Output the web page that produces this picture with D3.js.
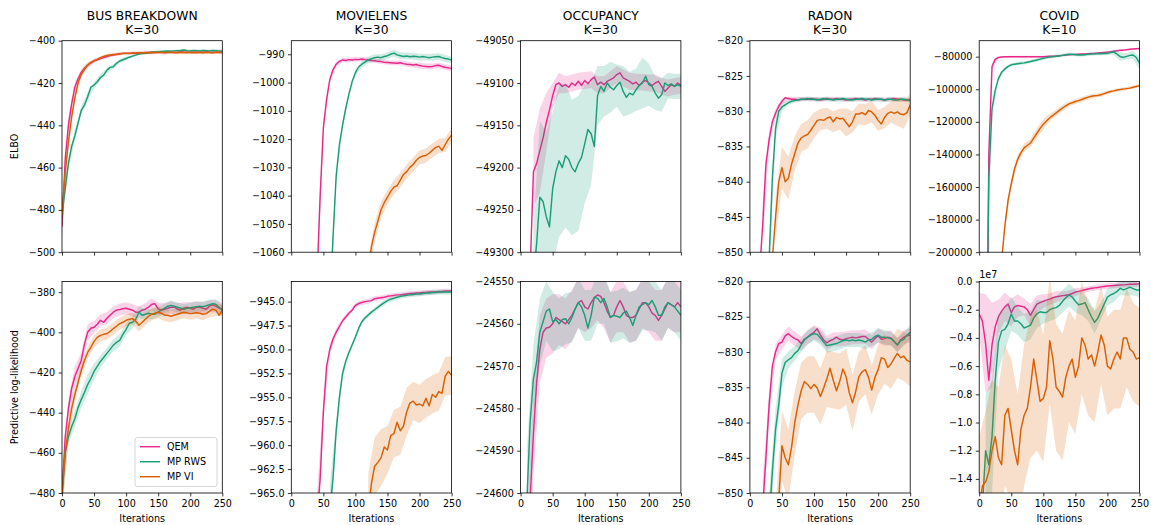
<!DOCTYPE html>
<html>
<head>
<meta charset="utf-8">
<script src="https://cdn.jsdelivr.net/npm/d3@7"></script>
<style>
  body { margin: 0; background: #fff; }
  text { font-family: "DejaVu Sans", sans-serif; }
</style>
</head>
<body>
<div id="chart"></div>
<script>
// mean curves are read every 5 iterations, band half-widths every 10 iterations
const iterations = d3.range(0, 251, 5);
const bandIterations = d3.range(0, 251, 10);
function pad(n, values) { return Array(n).fill(null).concat(values); }

const seriesNames = ["QEM", "MP RWS", "MP VI"];
const seriesColors = ["#e7298a", "#1b9e77", "#d95f02"];
const datasetTitles = ["BUS BREAKDOWN", "MOVIELENS", "OCCUPANCY", "RADON", "COVID"];
const datasetK = ["K=30", "K=30", "K=30", "K=30", "K=10"];
const rowLabels = ["ELBO", "Predictive log-likelihood"];
const xTicks = [0, 50, 100, 150, 200, 250];

// ---- ELBO row ----
const busElboTicks = [-500, -480, -460, -440, -420, -400];
const busElboQEM = [-488, -456, -440, -430, -422, -418, -415, -413, -411.5, -410.5, -409.5, -409, -408.5, -408, -407.5, -407, -406.8, -406.5, -406.3, -406, -405.9, -406.1, -405.8, -405.9, -405.7, -405.8, -405.6, -405.7, -405.5, -405.6, -405.5, -405.4, -405.6, -405.5, -405.4, -405.6, -405.5, -405.3, -405.5, -405.6, -405.4, -405.5, -405.6, -405.4, -405.5, -405.3, -405.5, -405.6, -405.4, -405.5, -405.5];
const busElboRWS = [-482, -470, -458, -450, -445, -439, -433, -430.5, -426.5, -422, -421, -419.4, -417.4, -416.3, -414, -412.6, -412.3, -410.7, -409.6, -409, -408.4, -407.8, -407.3, -406.8, -406.3, -406.1, -406, -405.7, -405.5, -405.3, -405.2, -405.1, -405, -404.9, -405, -404.8, -404.7, -404.6, -404.4, -404.7, -404.8, -404.6, -404.7, -404.8, -404.6, -404.7, -404.8, -404.6, -404.7, -404.8, -404.9];
const busElboVI = [-482, -462, -448, -436, -427, -420, -416, -413.5, -411.5, -410.3, -409.5, -408.8, -408, -407.5, -407, -406.8, -406.5, -406.4, -406.2, -406, -406, -405.9, -405.9, -405.8, -405.8, -405.7, -405.7, -405.6, -405.7, -405.6, -405.6, -405.5, -405.7, -405.6, -405.5, -405.6, -405.7, -405.5, -405.6, -405.5, -405.6, -405.7, -405.5, -405.6, -405.7, -405.5, -405.6, -405.7, -405.6, -405.5, -405.7];
const busElboQEMBand = [6, 4, 2, 1.5, 1.2, 1, 0.8, 0.8, 0.6, 0.6, 0.6, 0.6, 0.6, 0.6, 0.6, 0.6, 0.6, 0.6, 0.6, 0.6, 0.6, 0.6, 0.6, 0.6, 0.6, 0.6];
const busElboRWSBand = [6, 3, 2.5, 2, 2, 1.5, 1.5, 1.2, 1, 1, 0.8, 0.7, 0.6, 0.6, 0.6, 0.6, 0.6, 0.6, 0.6, 0.6, 0.6, 0.6, 0.6, 0.6, 0.6, 0.6];
const busElboVIBand = [6, 3, 2, 1.5, 1, 0.7, 0.7, 0.7, 0.7, 0.7, 0.7, 0.7, 0.7, 0.7, 0.7, 0.7, 0.7, 0.7, 0.7, 0.7, 0.7, 0.7, 0.7, 0.7, 0.7, 0.7];

const movElboTicks = [-1060, -1050, -1040, -1030, -1020, -1010, -1000, -990];
const movElboQEM = pad(7, [-1085, -1070, -1040, -1016, -1006, -999, -995.5, -993.5, -992.5, -992, -992.2, -991.9, -992, -991.8, -991.9, -991.7, -991.9, -992, -992.2, -992.3, -992.5, -992.6, -992.8, -992.9, -993, -993.1, -993.2, -993, -993.3, -993.5, -993.6, -993.8, -993.6, -994, -994.2, -994.3, -994.4, -994.3, -994, -993.9, -994.3, -994.6, -994.8, -995]);
const movElboRWS = pad(12, [-1080, -1055, -1033, -1022, -1015, -1009, -1004, -999.5, -996.5, -994.5, -993.5, -992.8, -992, -991.6, -991.2, -991, -991.2, -990.8, -990.5, -990, -989.6, -990.2, -990.5, -990.8, -990.6, -990.9, -990.7, -990.8, -991, -990.8, -991, -991.2, -991, -990.9, -990.8, -991.2, -991.5, -991.7, -992]);
const movElboVI = pad(23, [-1078, -1066, -1058, -1053, -1049, -1045, -1042.5, -1040.5, -1038.5, -1037, -1036.5, -1034.5, -1032.5, -1031.5, -1030, -1029, -1027.5, -1026.5, -1026, -1025.8, -1025, -1024, -1023, -1022.5, -1024, -1022, -1020, -1018.6]);
const movElboQEMBand = pad(4, [6, 2, 1, 0.8, 0.8, 0.8, 0.8, 0.8, 0.8, 0.8, 0.8, 0.8, 0.8, 0.9, 0.9, 0.9, 1, 1, 1, 1, 1, 1]);
const movElboRWSBand = pad(6, [5, 2, 1.5, 1, 1, 1.2, 1.2, 1.2, 1.2, 1.2, 1.2, 1.2, 1.2, 1.2, 1.2, 1.2, 1.2, 1.2, 1.2, 1.2]);
const movElboVIBand = pad(12, [4, 3.5, 3, 2.5, 2.5, 2.5, 2.5, 2.5, 2.5, 2.5, 2.5, 2.5, 2.5, 2.5]);

const occElboTicks = [-49300, -49250, -49200, -49150, -49100, -49050];
const occElboQEM = pad(3, [-49320, -49205, -49195, -49180, -49165, -49147, -49132, -49115, -49102, -49100, -49104, -49102, -49105, -49100, -49103, -49098, -49103, -49097, -49101, -49096, -49093, -49102, -49099, -49102, -49098, -49096, -49094, -49090, -49088, -49094, -49096, -49098, -49101, -49099, -49103, -49099, -49097, -49100, -49103, -49100, -49098, -49104, -49110, -49106, -49102, -49104, -49100, -49103]);
const occElboRWS = pad(4, [-49330, -49290, -49235, -49240, -49258, -49270, -49225, -49205, -49192, -49200, -49186, -49190, -49200, -49205, -49195, -49188, -49172, -49155, -49160, -49175, -49115, -49104, -49110, -49100, -49105, -49108, -49103, -49099, -49110, -49117, -49112, -49114, -49108, -49103, -49100, -49092, -49102, -49104, -49112, -49118, -49114, -49100, -49103, -49101, -49104, -49102, -49104]);
const occElboQEMBand = pad(2, [40, 50, 35, 15, 12, 10, 10, 10, 10, 10, 10, 10, 10, 10, 10, 10, 10, 10, 10, 10, 10, 10, 10, 10]);
const occElboRWSBand = pad(2, [60, 90, 100, 90, 90, 85, 80, 80, 70, 60, 35, 30, 30, 25, 30, 25, 25, 30, 25, 20, 20, 15, 15, 15]);

const radElboTicks = [-850, -845, -840, -835, -830, -825, -820];
const radElboQEM = pad(3, [-853, -846, -837.5, -834, -831.5, -830.3, -829.3, -828.6, -828.1, -828.2, -828.3, -828.3, -828.4, -828.3, -828.3, -828.3, -828.2, -828.3, -828.3, -828.4, -828.3, -828.2, -828.3, -828.3, -828.2, -828.3, -828.3, -828.4, -828.3, -828.3, -828.2, -828.3, -828.3, -828.4, -828.3, -828.3, -828.2, -828.3, -828.3, -828.4, -828.3, -828.3, -828.2, -828.3, -828.3, -828.4, -828.4, -828.4]);
const radElboRWS = pad(6, [-851, -839.5, -832.5, -830, -829.4, -829.1, -828.8, -828.6, -828.5, -828.4, -828.3, -828.3, -828.2, -828.3, -828.3, -828.4, -828.3, -828.2, -828.3, -828.3, -828.4, -828.3, -828.3, -828.2, -828.3, -828.4, -828.4, -828.3, -828.3, -828.2, -828.3, -828.3, -828.4, -828.3, -828.3, -828.3, -828.4, -828.3, -828.3, -828.4, -828.4, -828.3, -828.3, -828.4, -828.5]);
const radElboVI = pad(7, [-851, -845, -840, -838, -840, -839.5, -837.5, -836, -834.5, -833.8, -833.5, -833.3, -832.7, -832, -831.3, -831.2, -831.3, -831, -830.8, -831.5, -830.9, -831.1, -831, -831.6, -832.2, -831.5, -830.4, -830.4, -830.2, -830.5, -829.9, -830.1, -830.6, -831.3, -831.8, -830.9, -830.3, -830.1, -830.3, -830.1, -830.4, -830.5, -830.2, -829.1]);
const radElboQEMBand = pad(2, [3, 1.2, 0.6, 0.4, 0.3, 0.3, 0.3, 0.3, 0.3, 0.3, 0.3, 0.3, 0.3, 0.3, 0.3, 0.3, 0.3, 0.3, 0.3, 0.3, 0.3, 0.3, 0.3, 0.3]);
const radElboRWSBand = pad(3, [3, 1.5, 0.6, 0.3, 0.3, 0.3, 0.3, 0.3, 0.3, 0.3, 0.3, 0.3, 0.3, 0.3, 0.3, 0.3, 0.3, 0.3, 0.3, 0.3, 0.3, 0.3, 0.3]);
const radElboVIBand = pad(4, [3, 3, 3, 2.5, 2, 2, 1.8, 1.5, 1.5, 1.5, 1.5, 2, 1.5, 1.5, 1.5, 1.5, 1.5, 1.5, 1.5, 2, 2, 1.5]);

const covElboTicks = [-200000, -180000, -160000, -140000, -120000, -100000, -80000];
const covElboQEM = pad(2, [-400000, -140000, -86000, -81500, -80500, -80200, -80100, -80050, -80000, -80000, -80000, -80000, -80000, -80000, -80000, -80000, -80000, -80000, -80000, -79900, -79800, -79700, -79600, -79400, -79200, -79000, -78800, -78700, -78600, -78500, -78400, -78300, -78200, -78100, -78000, -77800, -77600, -77400, -77200, -77000, -76700, -76400, -76100, -76000, -75800, -75500, -75300, -75100, -75000]);
const covElboRWS = pad(2, [-300000, -155000, -112000, -100500, -93500, -89500, -87500, -86000, -85000, -84600, -84300, -84000, -83800, -83400, -83000, -82500, -82000, -81500, -81000, -80600, -80300, -80000, -79700, -79400, -79200, -78800, -78500, -78600, -78800, -79000, -79000, -78800, -78600, -78400, -78300, -78200, -78200, -78100, -78000, -77400, -77200, -78500, -80000, -80400, -79800, -79200, -79000, -80500, -84000]);
const covElboVI = pad(7, [-205000, -184000, -168000, -158000, -149000, -143000, -139000, -136000, -134500, -133000, -130000, -127000, -124000, -121500, -119500, -117500, -116000, -114500, -113000, -111500, -110200, -109000, -108300, -107500, -107000, -106300, -105500, -104800, -104300, -104000, -103800, -103400, -102700, -102000, -101400, -101000, -100500, -100100, -99900, -99600, -99300, -98800, -98300, -97800]);
const covElboQEMBand = pad(1, [10000, 2000, 500, 500, 500, 500, 500, 500, 500, 500, 500, 500, 500, 500, 500, 500, 500, 500, 500, 500, 500, 500, 500, 500, 500]);
const covElboRWSBand = pad(1, [10000, 3000, 1500, 1200, 1000, 1000, 1000, 1000, 1000, 1000, 1000, 1000, 1000, 1000, 1000, 1000, 1000, 1000, 1000, 1000, 1500, 2500, 2000, 2500, 4000]);
const covElboVIBand = pad(4, [3000, 2500, 2500, 2500, 2500, 3000, 3000, 2500, 2000, 2000, 1500, 1500, 1500, 1500, 1200, 1200, 1200, 1000, 1000, 1000, 1000, 1000]);

// ---- predictive log-likelihood row ----
const busPllTicks = [-480, -460, -440, -420, -400, -380];
const busPllQEM = [-480, -452, -438, -428, -422, -418, -414, -406, -400, -398, -397.5, -396, -394, -395, -393, -391.5, -390, -389, -388.6, -388.3, -388, -388.5, -389, -390, -390, -389, -388.5, -387.5, -386, -385.8, -388.3, -389, -388.5, -388, -387.5, -387.4, -388.5, -389, -388, -387.5, -388, -388.5, -387.5, -387.4, -388, -388.5, -387, -386.3, -387, -388, -388.3];
const busPllRWS = [-480, -460, -452, -447, -443, -437.5, -433.5, -430, -426, -423, -419.5, -417, -414.5, -412.5, -410.5, -408.5, -406.4, -405, -404, -401, -398.5, -395.5, -395, -393.5, -390, -391.5, -391, -390.5, -391, -391, -390, -389, -388, -387, -386.6, -387, -387.5, -388, -388.5, -388, -387.8, -387.5, -387.2, -387, -387.2, -386.8, -386.2, -385.8, -386, -387.5, -389];
const busPllVI = [-482, -460, -448, -438, -431, -425, -419, -414, -410, -407.5, -404.5, -402.5, -401.5, -401, -400.7, -399.5, -398.2, -397, -395.7, -395, -394, -393.5, -393.2, -394.5, -396.5, -395, -393.5, -392, -391, -390.5, -390, -390.5, -391.5, -391.5, -392, -391.5, -391, -390.5, -390, -390.3, -390.7, -390.5, -390.3, -390.5, -391, -390.7, -389.5, -388.5, -389, -391.5, -389];
const busPllQEMBand = [8, 5, 5, 4, 4, 3, 3, 3, 3, 3, 3, 3, 3, 3, 3, 3, 3, 3, 3, 3, 3, 3, 3, 3, 3, 3];
const busPllRWSBand = [8, 4, 4, 4, 5, 4, 3, 3, 3, 3, 3, 3, 3, 2.5, 2.5, 2.5, 2.5, 2.5, 2.5, 2.5, 2.5, 2.5, 2.5, 2.5, 2.5, 2.5];
const busPllVIBand = [10, 5, 4, 3, 3, 3, 3, 3, 3, 3, 3, 3, 3, 3, 3, 3, 3, 3, 3, 3, 3, 3, 3, 3, 3, 3];

const movPllTicks = [-965, -962.5, -960, -957.5, -955, -952.5, -950, -947.5, -945];
const movPllQEM = pad(8, [-968, -963.5, -956.5, -951.8, -950, -948.9, -948.2, -947.6, -947, -946.6, -946.2, -945.9, -945.4, -945.2, -945.1, -945, -944.95, -944.9, -944.7, -944.65, -944.6, -944.55, -944.45, -944.4, -944.35, -944.3, -944.3, -944.25, -944.2, -944.15, -944.15, -944.1, -944.1, -944.05, -944.05, -944, -944, -944, -943.95, -943.95, -943.9, -943.9, -943.9]);
const movPllRWS = pad(12, [-967, -963.5, -958.5, -955, -952.5, -951.2, -950.3, -949.5, -948.7, -947.8, -947.1, -946.7, -946.4, -946.1, -945.85, -945.6, -945.35, -945.1, -944.9, -944.75, -944.65, -944.55, -944.45, -944.4, -944.35, -944.3, -944.25, -944.2, -944.2, -944.15, -944.1, -944.1, -944.05, -944.05, -944, -944, -944, -944, -944]);
const movPllVI = pad(24, [-967, -964, -962.2, -961.8, -961.3, -960.2, -960.5, -959, -958.8, -957.6, -958.5, -958, -956.5, -955.6, -955.4, -955.8, -955.7, -955.9, -955.1, -955.9, -954.7, -955, -954.4, -954.6, -952.8, -952.3, -952.7]);
const movPllQEMBand = pad(4, [3, 1, 0.5, 0.4, 0.25, 0.25, 0.25, 0.25, 0.25, 0.25, 0.25, 0.25, 0.25, 0.25, 0.25, 0.25, 0.25, 0.25, 0.25, 0.25, 0.25, 0.25]);
const movPllRWSBand = pad(6, [3, 1, 0.5, 0.25, 0.25, 0.25, 0.25, 0.25, 0.25, 0.25, 0.25, 0.25, 0.25, 0.25, 0.25, 0.25, 0.25, 0.25, 0.25, 0.25]);
const movPllVIBand = pad(12, [4, 3, 3, 2.5, 2.5, 2.5, 2.5, 2, 2, 2, 2, 2, 2, 2]);

const occPllTicks = [-24600, -24590, -24580, -24570, -24560, -24550];
const occPllQEM = pad(2, [-24620, -24601, -24586, -24574, -24566, -24562, -24561, -24560.8, -24560, -24558.5, -24559, -24559.5, -24560, -24559, -24558, -24556.5, -24555, -24554.5, -24556, -24556.5, -24555, -24553.8, -24553.2, -24553.5, -24555, -24557, -24558.5, -24558, -24556, -24554.5, -24556, -24558, -24558.5, -24558.5, -24558, -24556.5, -24555, -24555, -24556, -24557.5, -24558, -24559.2, -24558, -24556.5, -24555, -24555.5, -24556, -24555, -24556]);
const occPllRWS = pad(1, [-24620, -24601, -24583, -24573, -24569, -24562, -24559.5, -24557, -24556.5, -24559.5, -24559, -24560, -24559, -24558.8, -24560, -24558.5, -24556.5, -24555, -24556, -24558, -24561, -24558, -24553.7, -24554, -24555, -24554, -24556, -24558.5, -24558, -24558.2, -24558.5, -24557.5, -24557, -24558.5, -24560.4, -24558, -24556, -24555.5, -24555, -24555.5, -24554.5, -24556, -24558, -24558, -24556, -24555, -24555.5, -24556, -24557, -24558]);
const occPllQEMBand = pad(1, [12, 10, 8, 7, 7, 6, 6, 6, 6, 6, 6, 6, 6, 6, 6, 6, 6, 6, 6, 6, 6, 6, 6, 6, 6]);
const occPllRWSBand = pad(1, [12, 8, 8, 7, 7, 6, 6, 6, 6, 6, 6, 6, 6, 6, 6, 6, 6, 6, 6, 6, 6, 6, 6, 6, 6]);

const radPllTicks = [-850, -845, -840, -835, -830, -825, -820];
const radPllQEM = pad(4, [-852, -845, -837.5, -832, -830, -828.8, -828.6, -827.7, -827.4, -827.8, -828.1, -828.3, -828.8, -828.2, -827.9, -827.5, -827.2, -826.7, -827.6, -828.3, -828.7, -828.4, -828.2, -827.9, -828.2, -828.3, -828.1, -828, -827.9, -828, -827.9, -827.8, -827.8, -828.2, -828.6, -828.1, -827.7, -828.2, -828.1, -827.9, -828, -828.5, -829, -828.3, -827.9, -827.7, -827.6]);
const radPllRWS = pad(6, [-854, -847, -841, -837.5, -833, -831.5, -831.1, -830.8, -830.2, -829.8, -829, -828.3, -827.9, -827.6, -827.4, -827.5, -828, -828.6, -829.1, -829, -828.9, -828.8, -828.6, -828.4, -828.3, -828.4, -828.3, -828.4, -828.3, -828.4, -828.6, -828.3, -828.2, -827.8, -827.6, -827.9, -827.9, -828, -828.1, -828.5, -829, -828.4, -828.2, -827.6, -827.2]);
const radPllVI = pad(8, [-856, -851, -843.3, -845, -846, -843.5, -840, -837.5, -835.5, -834.2, -834.6, -835.2, -834.6, -835.1, -836.3, -835.1, -833.8, -832.3, -834, -835.5, -834.2, -832.4, -833.5, -835.8, -837.2, -835.6, -833.5, -832.8, -832.5, -833.6, -835.4, -833.6, -832.5, -830.8, -831, -832.2, -831.7, -830.9, -830.2, -830.8, -830.6, -831.2, -831.4]);
const radPllQEMBand = pad(2, [4, 2, 1.2, 1, 1, 1, 1, 1, 1, 1, 1, 1, 1, 1, 1, 1, 1, 1, 1, 1, 1, 1, 1, 1]);
const radPllRWSBand = pad(3, [4, 3, 2, 1.2, 1, 1, 1, 1, 1, 1, 1, 1, 1, 1, 1, 1, 1, 1, 1, 1, 1, 1, 1]);
const radPllVIBand = pad(4, [4, 5, 5, 4.5, 4, 4, 4, 4, 4, 4, 4, 4, 4, 3.5, 3.5, 3.5, 3.5, 3.5, 3.5, 3.5, 3.5, 3.5]);

// COVID predictive values are in units of 1e7
const covPllTicks = [-1.4, -1.2, -1.0, -0.8, -0.6, -0.4, -0.2, 0.0];
const covPllQEM = [-0.23, -0.28, -0.44, -0.7, -0.45, -0.32, -0.25, -0.21, -0.18, -0.16, -0.22, -0.18, -0.17, -0.175, -0.18, -0.2, -0.24, -0.2, -0.16, -0.15, -0.14, -0.132, -0.125, -0.115, -0.108, -0.104, -0.1, -0.097, -0.094, -0.085, -0.075, -0.07, -0.065, -0.058, -0.053, -0.048, -0.045, -0.042, -0.038, -0.035, -0.032, -0.03, -0.028, -0.026, -0.025, -0.024, -0.022, -0.02, -0.019, -0.018, -0.017];
const covPllRWS = pad(1, [-1.6, -1.2, -1.3, -1.1, -0.7, -0.43, -0.35, -0.34, -0.3, -0.23, -0.28, -0.28, -0.3, -0.33, -0.32, -0.31, -0.26, -0.23, -0.215, -0.22, -0.22, -0.2, -0.19, -0.185, -0.17, -0.14, -0.115, -0.095, -0.11, -0.14, -0.165, -0.16, -0.15, -0.2, -0.25, -0.29, -0.26, -0.21, -0.16, -0.11, -0.095, -0.085, -0.07, -0.048, -0.06, -0.05, -0.04, -0.05, -0.06, -0.06]);
const covPllVI = [-1.6, -1.45, -1.42, -1.35, -1.2, -1.1, -1.25, -1.3, -0.95, -0.9, -1.05, -1.2, -1.3, -1.05, -0.95, -0.9, -0.75, -0.55, -0.7, -0.85, -0.83, -0.75, -0.42, -0.55, -0.75, -0.78, -0.82, -0.68, -0.6, -0.55, -0.68, -0.6, -0.4, -0.45, -0.55, -0.52, -0.6, -0.5, -0.38, -0.45, -0.6, -0.62, -0.55, -0.5, -0.55, -0.4, -0.4, -0.48, -0.5, -0.55, -0.54];
const covPllQEMBand = [0.15, 0.35, 0.3, 0.12, 0.1, 0.1, 0.08, 0.06, 0.08, 0.06, 0.05, 0.04, 0.04, 0.03, 0.03, 0.03, 0.02, 0.02, 0.02, 0.02, 0.02, 0.02, 0.02, 0.02, 0.02, 0.02];
const covPllRWSBand = pad(1, [0.4, 0.4, 0.2, 0.15, 0.12, 0.1, 0.1, 0.1, 0.1, 0.08, 0.08, 0.08, 0.08, 0.08, 0.08, 0.08, 0.08, 0.08, 0.06, 0.06, 0.06, 0.05, 0.05, 0.05, 0.05]);
const covPllVIBand = [0.5, 0.5, 0.5, 0.5, 0.5, 0.5, 0.5, 0.5, 0.5, 0.5, 0.45, 0.45, 0.45, 0.45, 0.4, 0.4, 0.4, 0.4, 0.4, 0.35, 0.35, 0.35, 0.35, 0.35, 0.35, 0.35];

// panel table built from the arrays above; y limits
const panels = [
  { row: 0, col: 0, ylim: [-500, -400], ticks: busElboTicks, fmt: "d", mean: [busElboQEM, busElboRWS, busElboVI], band: [busElboQEMBand, busElboRWSBand, busElboVIBand] },
  { row: 0, col: 1, ylim: [-1060, -985.2], ticks: movElboTicks, fmt: "d", mean: [movElboQEM, movElboRWS, movElboVI], band: [movElboQEMBand, movElboRWSBand, movElboVIBand] },
  { row: 0, col: 2, ylim: [-49300, -49050], ticks: occElboTicks, fmt: "d", mean: [occElboQEM, occElboRWS, null], band: [occElboQEMBand, occElboRWSBand, null] },
  { row: 0, col: 3, ylim: [-850, -820], ticks: radElboTicks, fmt: "d", mean: [radElboQEM, radElboRWS, radElboVI], band: [radElboQEMBand, radElboRWSBand, radElboVIBand] },
  { row: 0, col: 4, ylim: [-200000, -70200], ticks: covElboTicks, fmt: "d", mean: [covElboQEM, covElboRWS, covElboVI], band: [covElboQEMBand, covElboRWSBand, covElboVIBand] },
  { row: 1, col: 0, ylim: [-480, -374.7], ticks: busPllTicks, fmt: "d", mean: [busPllQEM, busPllRWS, busPllVI], band: [busPllQEMBand, busPllRWSBand, busPllVIBand] },
  { row: 1, col: 1, ylim: [-965, -942.9], ticks: movPllTicks, fmt: ".1f", mean: [movPllQEM, movPllRWS, movPllVI], band: [movPllQEMBand, movPllRWSBand, movPllVIBand] },
  { row: 1, col: 2, ylim: [-24600, -24550], ticks: occPllTicks, fmt: "d", mean: [occPllQEM, occPllRWS, null], band: [occPllQEMBand, occPllRWSBand, null] },
  { row: 1, col: 3, ylim: [-850, -820], ticks: radPllTicks, fmt: "d", mean: [radPllQEM, radPllRWS, radPllVI], band: [radPllQEMBand, radPllRWSBand, radPllVIBand] },
  { row: 1, col: 4, ylim: [-1.5, 0.0], ticks: covPllTicks, fmt: ".1f", offset: "1e7", mean: [covPllQEM, covPllRWS, covPllVI], band: [covPllQEMBand, covPllRWSBand, covPllVIBand] }
];

const width = 1151, height = 525;
const plotW = 160.3;
const colLeft = col => 62 + col * 229.3;
const rowTop = [40.7, 281.5];
const plotH = 211.5;
const fontTick = 9.6;
const fontTitle = 12.3;

const svg = d3.select("#chart").append("svg")
  .attr("width", width).attr("height", height)
  .style("background", "#fff");

// titles
datasetTitles.forEach((t, i) => {
  const cx = colLeft(i) + plotW / 2;
  svg.append("text").attr("x", cx).attr("y", 19.5).attr("text-anchor", "middle")
    .attr("font-size", fontTitle).text(t);
  svg.append("text").attr("x", cx).attr("y", 33.5).attr("text-anchor", "middle")
    .attr("font-size", fontTitle).text(datasetK[i]);
});

// row labels
rowLabels.forEach((t, r) => {
  svg.append("text")
    .attr("transform", `translate(15,${rowTop[r] + plotH / 2}) rotate(-90)`)
    .attr("text-anchor", "middle").attr("dy", "0.35em")
    .attr("font-size", fontTick).text(t);
});

panels.forEach((p, pi) => {
  const x0 = colLeft(p.col), y0 = rowTop[p.row];
  const g = svg.append("g").attr("transform", `translate(${x0},${y0})`);
  const x = d3.scaleLinear().domain([0, 250]).range([0, plotW]);
  const y = d3.scaleLinear().domain(p.ylim).range([plotH, 0]);

  const clipId = "clip" + pi;
  g.append("clipPath").attr("id", clipId)
    .append("rect").attr("width", plotW).attr("height", plotH);
  const plot = g.append("g").attr("clip-path", `url(#${clipId})`);

  p.mean.forEach((m, si) => {
    if (!m) return;
    const spread = p.band[si];
    const bandPts = bandIterations.map((it, k) => ({ it, c: m[k * 2], s: spread[k] }));
    plot.append("path")
      .datum(bandPts)
      .attr("fill", seriesColors[si]).attr("fill-opacity", 0.2).attr("stroke", "none")
      .attr("d", d3.area()
        .defined(d => d.c != null && d.s != null)
        .x(d => x(d.it)).y0(d => y(d.c - d.s)).y1(d => y(d.c + d.s)));
    plot.append("path")
      .datum(iterations.map((it, k) => ({ it, v: m[k] })))
      .attr("fill", "none").attr("stroke", seriesColors[si])
      .attr("stroke-width", 1.45).attr("stroke-linejoin", "round")
      .attr("d", d3.line().defined(d => d.v != null).x(d => x(d.it)).y(d => y(d.v)));
  });

  // y axis
  const ya = g.append("g").call(d3.axisLeft(y).tickValues(p.ticks)
    .tickFormat(d3.format(p.fmt)).tickSize(3.4).tickPadding(3.4));
  ya.select(".domain").remove();
  ya.selectAll("line").attr("stroke", "#000").attr("stroke-width", 0.8);
  ya.selectAll("text").attr("font-size", fontTick).attr("font-family", "DejaVu Sans").attr("fill", "#000");

  // x axis
  const xa = g.append("g").attr("transform", `translate(0,${plotH})`)
    .call(d3.axisBottom(x).tickValues(xTicks).tickSize(3.4).tickPadding(3.4)
      .tickFormat(p.row === 1 ? d3.format("d") : () => ""));
  xa.select(".domain").remove();
  xa.selectAll("line").attr("stroke", "#000").attr("stroke-width", 0.8);
  xa.selectAll("text").attr("font-size", fontTick).attr("font-family", "DejaVu Sans").attr("fill", "#000");

  // frame
  g.append("rect").attr("width", plotW).attr("height", plotH)
    .attr("fill", "none").attr("stroke", "#000").attr("stroke-width", 0.8);

  if (p.row === 1) {
    g.append("text").attr("x", plotW / 2).attr("y", plotH + 28.5)
      .attr("text-anchor", "middle").attr("font-size", fontTick).text("Iterations");
  }
  if (p.offset) {
    g.append("text").attr("x", 0).attr("y", -3.5)
      .attr("font-size", fontTick).text(p.offset);
  }
});

// legend in the lower-left panel
const lg = svg.append("g").attr("transform", "translate(135,437.5)");
lg.append("rect").attr("width", 82).attr("height", 49).attr("rx", 2.5)
  .attr("fill", "#fff").attr("fill-opacity", 0.8).attr("stroke", "#ccc").attr("stroke-width", 0.8);
seriesNames.forEach((name, i) => {
  const yy = 9.2 + i * 15;
  lg.append("line").attr("x1", 5).attr("x2", 25).attr("y1", yy).attr("y2", yy)
    .attr("stroke", seriesColors[i]).attr("stroke-width", 1.45);
  lg.append("text").attr("x", 32).attr("y", yy).attr("dy", "0.35em")
    .attr("font-size", fontTick).text(name);
});
</script>
</body>
</html>
